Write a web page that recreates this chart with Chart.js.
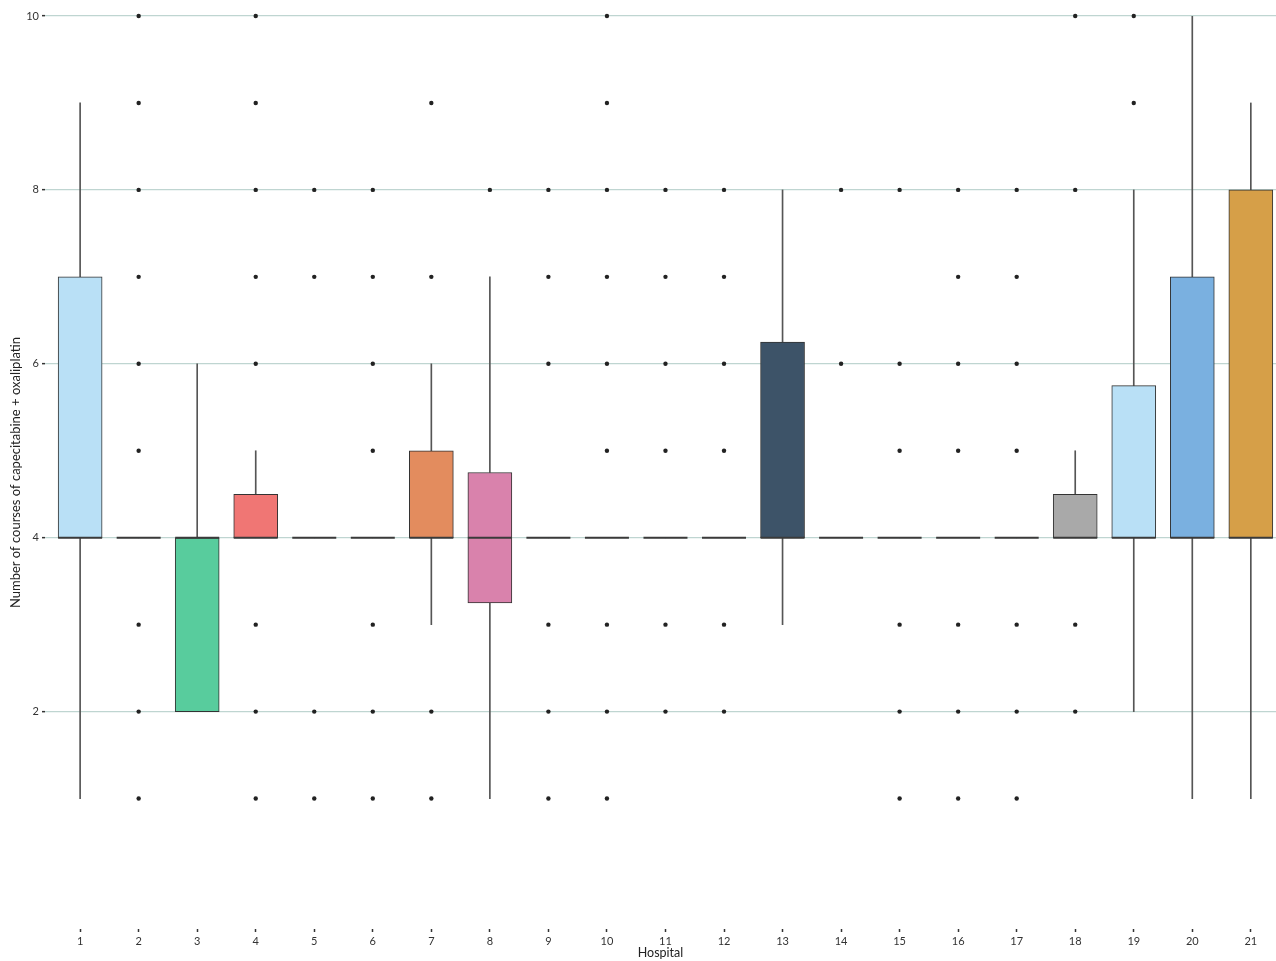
<!DOCTYPE html>
<html>
<head>
<meta charset="utf-8">
<script src="https://cdn.jsdelivr.net/npm/chart.js@4.4.1/dist/chart.umd.min.js"></script>
<style>
    body { margin: 0; background: #ffffff; }
    .chart-box { width: 1276px; height: 961px; }
</style>
</head>
<body>
<div class="chart-box">
    <canvas id="boxChart"></canvas>
</div>
<script>
    // data
    const hospitals = [1, 2, 3, 4, 5, 6, 7, 8, 9, 10, 11, 12, 13, 14, 15, 16, 17, 18, 19, 20, 21];
    const q1 = [4, 4, 2, 4, 4, 4, 4, 3.25, 4, 4, 4, 4, 4, 4, 4, 4, 4, 4, 4, 4, 4];
    const medians = [4, 4, 4, 4, 4, 4, 4, 4, 4, 4, 4, 4, 4, 4, 4, 4, 4, 4, 4, 4, 4];
    const q3 = [7, 4, 4, 4.5, 4, 4, 5, 4.75, 4, 4, 4, 4, 6.25, 4, 4, 4, 4, 4.5, 5.75, 7, 8];
    const whiskerLow = [1, 4, 2, 4, 4, 4, 3, 1, 4, 4, 4, 4, 3, 4, 4, 4, 4, 4, 2, 1, 1];
    const whiskerHigh = [9, 4, 6, 5, 4, 4, 6, 7, 4, 4, 4, 4, 8, 4, 4, 4, 4, 5, 8, 10, 9];
    const outliers = [
        [], [10, 9, 8, 7, 6, 5, 3, 2, 1], [], [10, 9, 8, 7, 6, 3, 2, 1],
        [8, 7, 2, 1], [8, 7, 6, 5, 3, 2, 1], [9, 7, 2, 1], [8],
        [8, 7, 6, 3, 2, 1], [10, 9, 8, 7, 6, 5, 3, 2, 1], [8, 7, 6, 5, 3, 2], [8, 7, 6, 5, 3, 2],
        [], [8, 6], [8, 6, 5, 3, 2, 1], [8, 7, 6, 5, 3, 2, 1],
        [8, 7, 6, 5, 3, 2, 1], [10, 8, 3, 2], [10, 9], [], []
    ];
    const boxColors = [
        '#b9e0f6', '#8fb8c9', '#58cc9d', '#f07674', '#c9a0dc', '#c9a0dc', '#e38c5e',
        '#d982ac', '#9b9b9b', '#9b9b9b', '#9b9b9b', '#9b9b9b', '#3d5368', '#9b9b9b',
        '#9b9b9b', '#9b9b9b', '#9b9b9b', '#a9a9a9', '#b9e0f6', '#7ab0e0', '#d69f48'
    ];
    const yTicks = [2, 4, 6, 8, 10];

    const fontFamily = 'Lato, "Open Sans", sans-serif';

    const lowerWhiskers = hospitals.map((h, i) => ({ x: h, y: [whiskerLow[i], q1[i]] }));
    const upperWhiskers = hospitals.map((h, i) => ({ x: h, y: [q3[i], whiskerHigh[i]] }));
    const boxes = hospitals.map((h, i) => ({ x: h, y: [q1[i], q3[i]] }));
    const medianPoints = hospitals.map((h, i) => ({ x: h, y: medians[i] }));
    const outlierPoints = [];
    hospitals.forEach((h, i) => {
        outliers[i].forEach(v => outlierPoints.push({ x: h, y: v }));
    });

    const ctx = document.getElementById('boxChart').getContext('2d');
    new Chart(ctx, {
        type: 'bar',
        data: {
            datasets: [
                {
                    type: 'scatter',
                    data: outlierPoints,
                    pointRadius: 2.2,
                    pointBackgroundColor: '#222222',
                    pointBorderWidth: 0,
                    clip: false,
                    order: 0
                },
                {
                    type: 'scatter',
                    data: medianPoints,
                    pointStyle: 'line',
                    pointRadius: 22,
                    pointBorderColor: '#3a3a3a',
                    pointBorderWidth: 2,
                    clip: false,
                    order: 1
                },
                {
                    data: boxes,
                    backgroundColor: boxColors,
                    borderColor: '#333333',
                    borderWidth: 1,
                    borderSkipped: false,
                    barThickness: 44,
                    grouped: false,
                    order: 2
                },
                {
                    data: upperWhiskers,
                    backgroundColor: '#555555',
                    borderWidth: 0,
                    barThickness: 1,
                    grouped: false,
                    order: 3
                },
                {
                    data: lowerWhiskers,
                    backgroundColor: '#555555',
                    borderWidth: 0,
                    barThickness: 1,
                    grouped: false,
                    order: 3
                }
            ]
        },
        options: {
            responsive: true,
            maintainAspectRatio: false,
            animation: false,
            events: [],
            layout: {
                autoPadding: false,
                padding: { top: 16, left: 0, right: 0, bottom: 0 }
            },
            scales: {
                x: {
                    type: 'linear',
                    offset: false,
                    min: 0.4,
                    max: 21.43,
                    afterBuildTicks: scale => {
                        scale.ticks = hospitals.map(h => ({ value: h }));
                    },
                    afterFit: scale => {
                        scale.height = 32;
                        scale.paddingRight = 0;
                        scale.paddingLeft = 0;
                    },
                    ticks: {
                        autoSkip: false,
                        maxRotation: 0,
                        padding: 3,
                        color: '#333333',
                        font: { family: fontFamily, size: 11 },
                        callback: value => String(value)
                    },
                    grid: {
                        offset: false,
                        drawOnChartArea: false,
                        tickLength: 3,
                        tickColor: '#333333',
                        tickWidth: 1.5
                    },
                    border: { display: false },
                    title: {
                        display: true,
                        text: 'Hospital',
                        color: '#222222',
                        font: { family: fontFamily, size: 12.5 },
                        padding: { top: 0, bottom: 0.5 }
                    }
                },
                y: {
                    min: -0.5,
                    max: 10,
                    afterBuildTicks: scale => {
                        scale.ticks = yTicks.map(v => ({ value: v }));
                    },
                    afterFit: scale => {
                        scale.width = 45;
                    },
                    ticks: {
                        padding: 3,
                        color: '#333333',
                        font: { family: fontFamily, size: 11 }
                    },
                    grid: {
                        color: '#bfd5d1',
                        lineWidth: 1.3,
                        tickLength: 3,
                        tickColor: '#333333',
                        tickWidth: 1.5
                    },
                    border: { display: false },
                    title: {
                        display: true,
                        text: 'Number of courses of capecitabine + oxaliplatin',
                        color: '#222222',
                        font: { family: fontFamily, size: 13 },
                        padding: { top: 8, bottom: 0 }
                    }
                }
            },
            plugins: {
                legend: { display: false },
                tooltip: { enabled: false }
            }
        }
    });
</script>
</body>
</html>
